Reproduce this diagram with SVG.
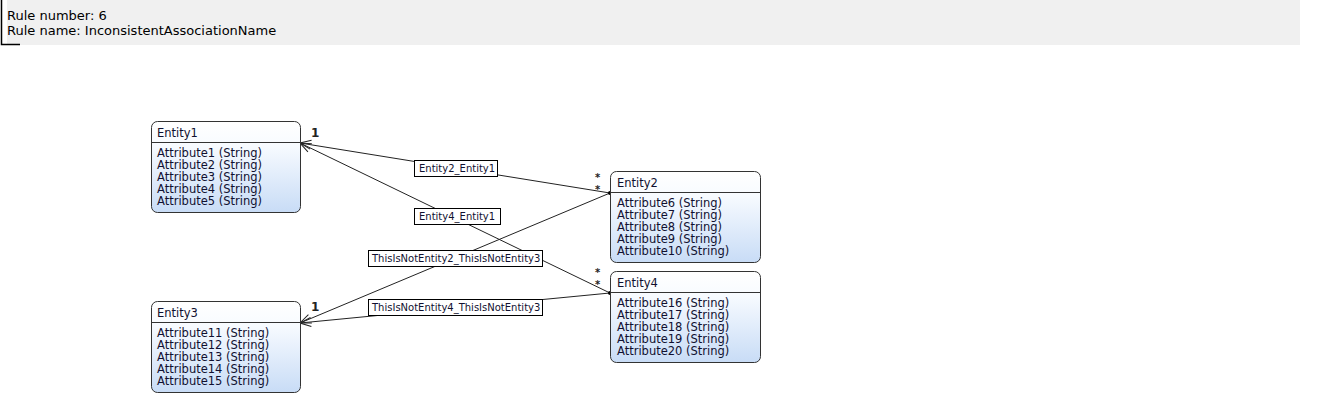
<svg xmlns="http://www.w3.org/2000/svg" width="1321" height="413" viewBox="0 0 1321 413">
<style>
.hdr{font-family:"DejaVu Sans",sans-serif;font-size:13px;fill:#000}
.box{stroke:#333;stroke-width:1;fill:url(#g)}
.sep{stroke:#333;stroke-width:1}
.t{font-family:"DejaVu Sans",sans-serif;font-size:11.5px;fill:#101030}
.conn{stroke:#222;stroke-width:1;fill:none}
.lbl{fill:#fff;stroke:#000;stroke-width:1}
.lt{font-family:"DejaVu Sans",sans-serif;font-size:10px;fill:#101030}
.m{font-family:"DejaVu Sans",sans-serif;font-size:12px;font-weight:bold;fill:#222}
.s{font-family:"DejaVu Sans",sans-serif;font-size:10px;font-weight:bold;fill:#222}
</style>
<defs>
<linearGradient id="g" x1="0" y1="0" x2="0" y2="1">
<stop offset="0" stop-color="#ffffff"/>
<stop offset="0.25" stop-color="#f8fbff"/>
<stop offset="1" stop-color="#c8dcf6"/>
</linearGradient>
<marker id="arr" viewBox="-12 -6 13 12" refX="0" refY="0" markerWidth="13" markerHeight="12" markerUnits="userSpaceOnUse" orient="auto">
<path d="M-11,-4.5 L0,0 L-11,4.5" fill="none" stroke="#222" stroke-width="1"/>
</marker>
</defs>
<g id="header">
<rect x="7" y="0" width="1293" height="45" fill="#f0f0f0"/>
<path d="M1.5,0 V44.5 H20" fill="none" stroke="#000" stroke-width="1.5"/>
<text class="hdr" x="7" y="20">Rule number: 6</text>
<text class="hdr" x="7" y="35">Rule name: InconsistentAssociationName</text>
</g>
<g id="connectors">
<path class="conn" d="M610,193 L300,143" marker-end="url(#arr)"/>
<path class="conn" d="M610,293 L300,143" marker-end="url(#arr)"/>
<path class="conn" d="M610,193 L300,323" marker-end="url(#arr)"/>
<path class="conn" d="M610,293 L300,323" marker-end="url(#arr)"/>
<circle cx="610" cy="193" r="2" fill="#000"/>
<circle cx="610" cy="293" r="2" fill="#000"/>
<rect class="lbl" x="414.5" y="160.5" width="83" height="16"/>
<text class="lt" x="419" y="172">Entity2_Entity1</text>
<rect class="lbl" x="414.5" y="208.5" width="86" height="16"/>
<text class="lt" x="419" y="220">Entity4_Entity1</text>
<rect class="lbl" x="368.5" y="250.5" width="174" height="16"/>
<text class="lt" x="372" y="262">ThisIsNotEntity2_ThisIsNotEntity3</text>
<rect class="lbl" x="368.5" y="299.5" width="174" height="16"/>
<text class="lt" x="372" y="311">ThisIsNotEntity4_ThisIsNotEntity3</text>
<text class="m" x="311" y="137">1</text>
<text class="s" x="595" y="181">*</text>
<text class="s" x="595" y="193">*</text>
<text class="s" x="595" y="276">*</text>
<text class="s" x="595" y="288">*</text>
<text class="m" x="311" y="311">1</text>
</g>
<g id="entity1">
<rect class="box" x="151.5" y="121.5" width="149" height="91" rx="6"/>
<line class="sep" x1="151.5" y1="142.5" x2="300.5" y2="142.5"/>
<text class="t" x="157" y="137">Entity1</text>
<text class="t" x="157" y="157">Attribute1 (String)</text>
<text class="t" x="157" y="169">Attribute2 (String)</text>
<text class="t" x="157" y="181">Attribute3 (String)</text>
<text class="t" x="157" y="193">Attribute4 (String)</text>
<text class="t" x="157" y="205">Attribute5 (String)</text>
</g>
<g id="entity2">
<rect class="box" x="610.5" y="171.5" width="150" height="91" rx="6"/>
<line class="sep" x1="610.5" y1="192.5" x2="760.5" y2="192.5"/>
<text class="t" x="617" y="187">Entity2</text>
<text class="t" x="617" y="207">Attribute6 (String)</text>
<text class="t" x="617" y="219">Attribute7 (String)</text>
<text class="t" x="617" y="231">Attribute8 (String)</text>
<text class="t" x="617" y="243">Attribute9 (String)</text>
<text class="t" x="617" y="255">Attribute10 (String)</text>
</g>
<g id="entity3">
<rect class="box" x="151.5" y="301.5" width="149" height="91" rx="6"/>
<line class="sep" x1="151.5" y1="322.5" x2="300.5" y2="322.5"/>
<text class="t" x="157" y="317">Entity3</text>
<text class="t" x="157" y="337">Attribute11 (String)</text>
<text class="t" x="157" y="349">Attribute12 (String)</text>
<text class="t" x="157" y="361">Attribute13 (String)</text>
<text class="t" x="157" y="373">Attribute14 (String)</text>
<text class="t" x="157" y="385">Attribute15 (String)</text>
</g>
<g id="entity4">
<rect class="box" x="610.5" y="271.5" width="150" height="91" rx="6"/>
<line class="sep" x1="610.5" y1="292.5" x2="760.5" y2="292.5"/>
<text class="t" x="617" y="287">Entity4</text>
<text class="t" x="617" y="307">Attribute16 (String)</text>
<text class="t" x="617" y="319">Attribute17 (String)</text>
<text class="t" x="617" y="331">Attribute18 (String)</text>
<text class="t" x="617" y="343">Attribute19 (String)</text>
<text class="t" x="617" y="355">Attribute20 (String)</text>
</g>
</svg>
